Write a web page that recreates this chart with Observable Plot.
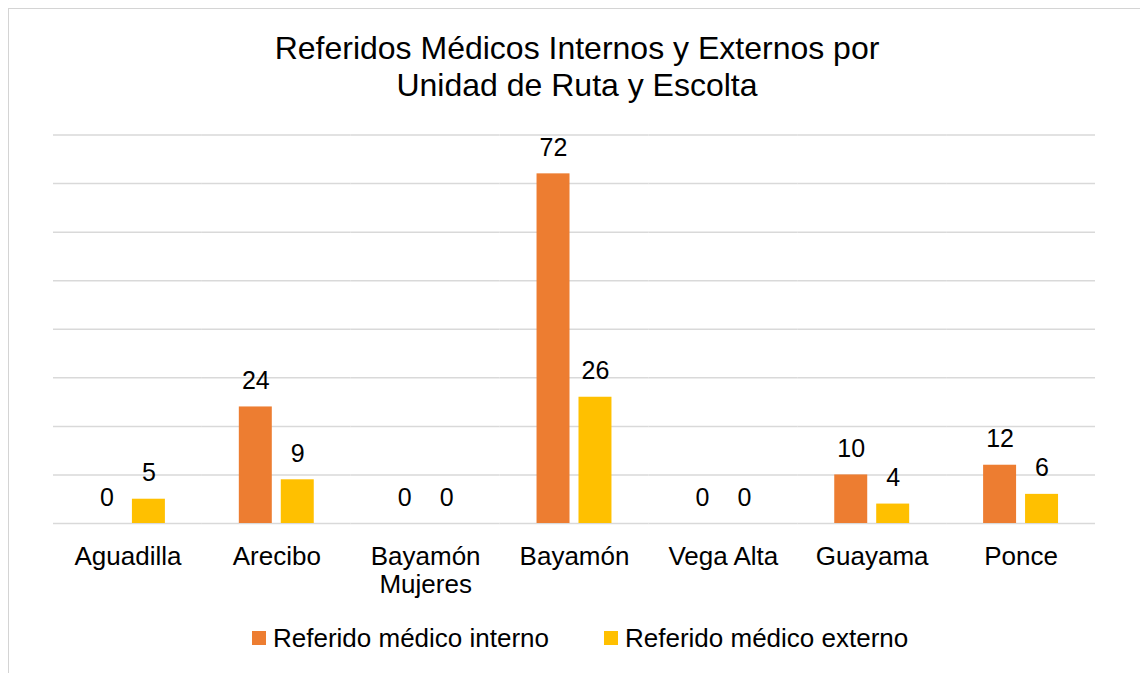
<!DOCTYPE html>
<html>
<head>
<meta charset="utf-8">
<script src="https://cdn.jsdelivr.net/npm/d3@7"></script>
<script src="https://cdn.jsdelivr.net/npm/@observablehq/plot@0.6"></script>
<style>
  html, body { margin: 0; padding: 0; background: #fff; }
  body { width: 1140px; height: 673px; overflow: hidden; position: relative;
         font-family: "Liberation Sans", Arial, Helvetica, sans-serif; color: #000; }
  #frame { position: absolute; left: 8px; top: 8px; width: 1160px; height: 700px;
           border: 1px solid #D4D4D4; box-sizing: border-box; }
  #title { position: absolute; left: 56px; top: 30px; width: 1042px; text-align: center;
           font-size: 32px; line-height: 37px; }
  #chart { position: absolute; left: 0; top: 100px; }
  .sw { position: absolute; width: 14px; height: 14px; }
  .lt { position: absolute; font-size: 26px; line-height: 30px; white-space: nowrap; }
</style>
</head>
<body>
<div id="frame"></div>
<div id="title">Referidos Médicos Internos y Externos por<br>Unidad de Ruta y Escolta</div>
<div id="chart"></div>
<div id="legend"></div>
<script>
const categories = ["Aguadilla", "Arecibo", "Bayamón\nMujeres", "Bayamón", "Vega Alta", "Guayama", "Ponce"];
const interno = [0, 24, 0, 72, 0, 10, 12];
const externo = [5, 9, 0, 26, 0, 4, 6];
const series = ["Referido médico interno", "Referido médico externo"];
const colors = ["#ED7D31", "#FFC000"];
const yTicks = [0, 10, 20, 30, 40, 50, 60, 70, 80];

const rows = [];
categories.forEach((c, i) => {
  rows.push({cat: c, series: series[0], value: interno[i]});
  rows.push({cat: c, series: series[1], value: externo[i]});
});

const chart = Plot.plot({
  width: 1140,
  height: 500,
  marginLeft: 53,
  marginRight: 45,
  marginTop: 34.5,
  marginBottom: 77,
  style: {fontFamily: "'Liberation Sans', Arial, Helvetica, sans-serif", background: "transparent", color: "#000"},
  fx: {domain: categories, padding: 0, round: false},
  x: {domain: series, paddingInner: 0.214, paddingOuter: 0.881, round: false, axis: null},
  y: {domain: [0, 80], axis: null},
  color: {domain: series, range: colors},
  marks: [
    Plot.gridY(yTicks, {stroke: "#D9D9D9", strokeOpacity: 1, strokeWidth: 1.5}),
    Plot.barY(rows, {fx: "cat", x: "series", y: "value", fill: "series"}),
    Plot.text(rows, {fx: "cat", x: "series", y: "value", text: d => String(d.value),
      lineAnchor: "bottom", dy: -18, fontSize: 25, fill: "#000"}),
    Plot.axisFx({anchor: "bottom", tickSize: 0, tickPadding: 22.5, fontSize: 26,
      lineHeight: 1.05, label: null, fill: "#000"})
  ]
});
document.getElementById("chart").appendChild(chart);

const legend = document.getElementById("legend");
const items = [
  {sw: 252, tx: 273},
  {sw: 604, tx: 625}
];
series.forEach((s, i) => {
  const sw = document.createElement("div");
  sw.className = "sw";
  sw.style.left = items[i].sw + "px";
  sw.style.top = "631px";
  sw.style.background = colors[i];
  legend.appendChild(sw);
  const t = document.createElement("div");
  t.className = "lt";
  t.style.left = items[i].tx + "px";
  t.style.top = "623px";
  t.textContent = s;
  legend.appendChild(t);
});
</script>
</body>
</html>
